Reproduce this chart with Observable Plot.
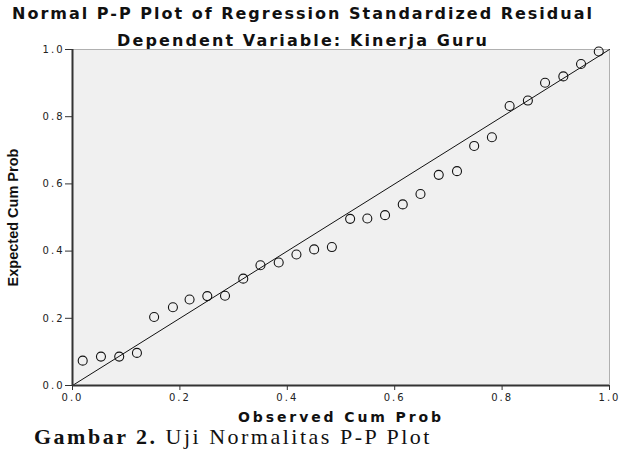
<!DOCTYPE html>
<html>
<head>
<meta charset="utf-8">
<script src="https://cdn.jsdelivr.net/npm/d3@7"></script>
<script src="https://cdn.jsdelivr.net/npm/@observablehq/plot@0.6"></script>
<style>
  html, body { margin: 0; padding: 0; background: #fff; overflow: hidden; }
  #wrap { position: relative; width: 622px; height: 450px; }
  .title { position: absolute; left: 0; width: 606px; text-align: center; line-height: 20px;
           font-family: "DejaVu Sans", Verdana, sans-serif; font-weight: bold; color: #111; white-space: nowrap; }
  #t1 { top: 4px; font-size: 16px; letter-spacing: 2px; }
  #t2 { top: 31px; font-size: 16px; letter-spacing: 2.1px; }
  #caption { position: absolute; left: 34px; top: 426px; line-height: 22px;
             font-family: "Liberation Serif", "Times New Roman", serif;
             font-size: 22px; letter-spacing: 2.5px; color: #111; white-space: nowrap; }
  #chart { position: absolute; left: 0; top: 0; }
  #chart g[aria-label="x-axis tick label"] text,
  #chart g[aria-label="y-axis tick label"] text { letter-spacing: 2px; }
</style>
</head>
<body>
<div id="wrap">
  <div id="chart"></div>
  <div class="title" id="t1">Normal P-P Plot of Regression Standardized Residual</div>
  <div class="title" id="t2">Dependent Variable: Kinerja Guru</div>
  <div id="caption"><b>Gambar 2.</b> Uji Normalitas P-P Plot</div>
</div>
<script>
// Observed vs expected cumulative probabilities of the standardized residuals
const observed = [0.019, 0.053, 0.087, 0.120, 0.152, 0.187, 0.218, 0.251, 0.284, 0.318,
                  0.350, 0.384, 0.417, 0.450, 0.483, 0.517, 0.549, 0.582, 0.615, 0.648,
                  0.682, 0.716, 0.748, 0.781, 0.814, 0.848, 0.880, 0.914, 0.947, 0.980];
const expected = [0.074, 0.086, 0.086, 0.097, 0.204, 0.233, 0.256, 0.266, 0.267, 0.318,
                  0.358, 0.366, 0.390, 0.405, 0.412, 0.496, 0.497, 0.507, 0.539, 0.570,
                  0.627, 0.638, 0.713, 0.739, 0.832, 0.848, 0.901, 0.920, 0.957, 0.994];
// Reference line y = x
const diagonal = [0, 1];
const ticks = [0, 0.2, 0.4, 0.6, 0.8, 1.0];
const xLabel = "Observed Cum Prob";
const yLabel = "Expected Cum Prob";

const points = observed.map((x, i) => ({x, y: expected[i]}));

const chart = Plot.plot({
  width: 622,
  height: 440,
  marginLeft: 72,
  marginRight: 13,
  marginTop: 49,
  marginBottom: 55,
  style: {background: "transparent", fontFamily: "DejaVu Sans, Verdana, sans-serif"},
  x: {domain: [0, 1]},
  y: {domain: [0, 1]},
  marks: [
    Plot.frame({fill: "#f0f0f0", stroke: "#b0b0b0", strokeWidth: 1}),
    Plot.line(diagonal, {x: d => d, y: d => d, stroke: "#111", strokeWidth: 1}),
    Plot.dot(points, {x: "x", y: "y", r: 4.5, stroke: "#111", strokeWidth: 1.1, fill: "none"}),
    Plot.ruleX([0], {stroke: "#333", strokeWidth: 2}),
    Plot.ruleY([0], {stroke: "#333", strokeWidth: 2}),
    Plot.axisX(ticks, {tickFormat: d3.format(".1f"), tickSize: 5, tickPadding: 3, fontSize: 10,
                       stroke: "#333", color: "#222", label: null}),
    Plot.axisY(ticks, {tickFormat: d3.format(".1f"), tickSize: 7, tickPadding: 1, fontSize: 10,
                       stroke: "#333", color: "#222", label: null}),
    Plot.text([xLabel], {frameAnchor: "bottom", dy: 32, lineAnchor: "middle", text: d => d,
                         fontSize: 14, fontWeight: "bold", fill: "#111",
                         fontFamily: "DejaVu Sans, Verdana, sans-serif"}),
    Plot.text([yLabel], {frameAnchor: "left", dx: -59, rotate: -90, textAnchor: "middle",
                         lineAnchor: "middle", text: d => d,
                         fontSize: 14.5, fontWeight: "bold", fill: "#111",
                         fontFamily: "Liberation Sans Narrow, Arial Narrow, sans-serif"})
  ]
});
// widen the horizontal axis title a little, as in the printed figure
d3.select(chart).selectAll('g[aria-label="text"]').filter((d, i) => i === 0)
  .selectAll("text").style("letter-spacing", "2.9px");
document.getElementById("chart").appendChild(chart);
</script>
</body>
</html>
